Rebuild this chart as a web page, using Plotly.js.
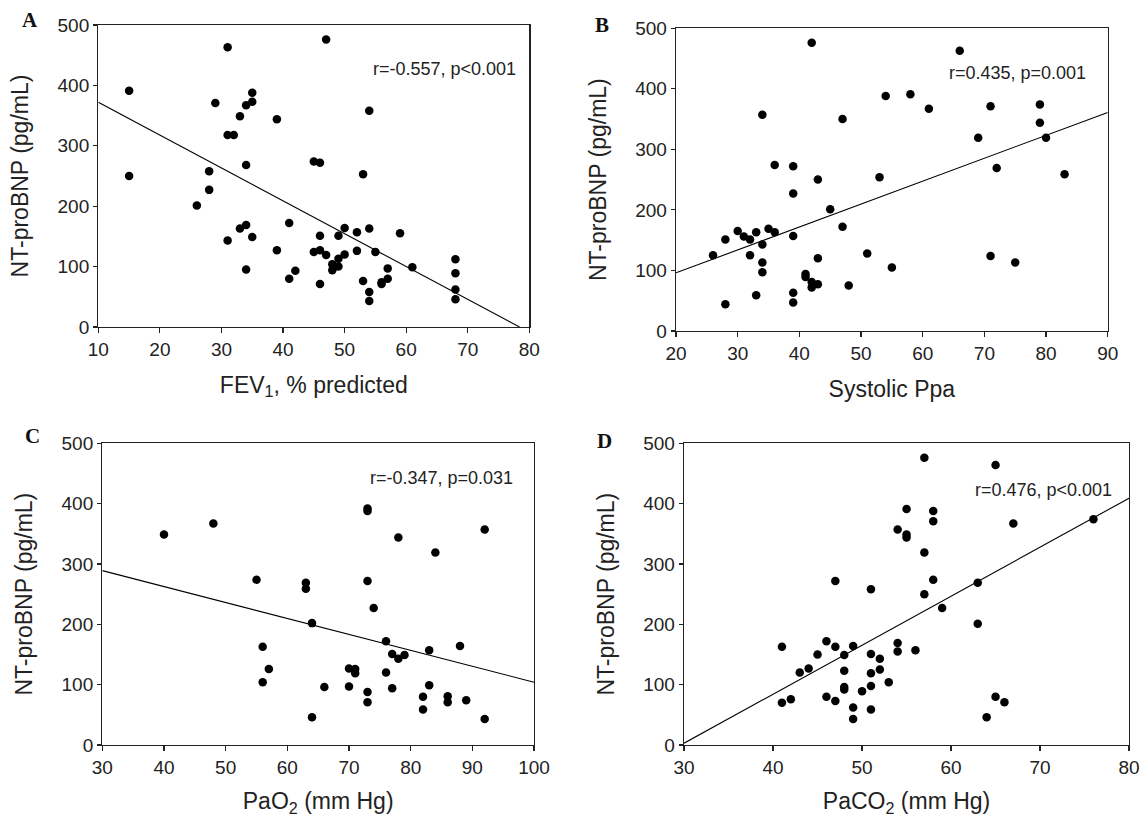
<!DOCTYPE html>
<html>
<head>
<meta charset="utf-8">
<script src="https://cdn.plot.ly/plotly-3.0.1.min.js"></script>
<style>html,body{margin:0;padding:0;background:#fff;}#chart{width:1146px;height:817px;}</style>
</head>
<body>
<div id="chart"></div>
<script>
// ---- Panel A: FEV1 % predicted vs NT-proBNP ----
const fevX = [15,15,31,29,35,35,34,33,31,32,39,34,28,28,26,41,34,33,35,31,39,34,41,42,47,54,45,46,53,46,49,50,52,54,59,45,46,47,49,50,52,55,48,48,49,57,61,46,53,56,56,57,54,54,68,68,68,68];
const fevY = [391,250,463,371,388,373,367,349,318,318,344,268,258,227,201,172,169,163,149,143,127,95,80,93,476,358,274,272,253,151,151,164,157,163,155,124,127,119,113,120,126,124,104,94,100,97,99,71,76,71,74,80,58,43,112,89,62,46];
const fitAX = [10, 78.4];
const fitAY = [372, 0];

// ---- Panel B: Systolic Ppa vs NT-proBNP ----
const ppaX = [42,34,47,36,39,43,39,45,47,30,33,35,36,31,32,28,39,34,26,32,34,34,43,41,41,42,42,43,48,39,33,39,28,66,54,58,61,71,79,79,69,80,72,83,53,51,71,75,55];
const ppaY = [476,357,350,274,272,250,227,201,172,165,163,169,163,156,151,151,157,143,125,125,113,97,120,94,89,81,72,77,75,63,59,47,44,463,388,391,367,371,374,344,319,319,269,259,254,128,124,113,105];
const fitBX = [20, 90];
const fitBY = [96, 361];

// ---- Panel C: PaO2 vs NT-proBNP ----
const pao2X = [40,48,55,56,57,56,73,73,92,78,84,63,63,73,74,64,76,88,83,77,79,78,70,71,71,76,66,70,77,83,73,73,82,82,86,86,89,64,92];
const pao2Y = [349,367,274,163,126,104,392,388,357,344,319,269,259,272,227,202,172,164,157,151,149,143,127,126,119,120,96,97,94,99,88,71,80,59,81,71,74,46,43];
const fitCX = [30, 100];
const fitCY = [289, 104];

// ---- Panel D: PaCO2 vs NT-proBNP ----
const paco2X = [47,41,46,47,49,45,48,43,44,48,48,48,41,42,46,47,49,49,57,65,55,58,58,67,76,54,55,55,57,58,51,63,57,59,63,54,54,56,51,52,52,51,53,51,50,51,65,66,64];
const paco2Y = [272,163,172,163,164,150,149,120,127,123,96,92,70,76,80,73,62,43,476,464,391,388,371,367,374,357,349,344,319,274,258,269,250,227,201,169,155,157,151,143,125,119,104,98,89,59,80,71,46];
const fitDX = [30, 80];
const fitDY = [3, 409];

const yTicks = [0,100,200,300,400,500];
const statLabels = ["r=-0.557, p<0.001", "r=0.435, p=0.001", "r=-0.347, p=0.031", "r=0.476, p<0.001"];
const panelLetters = ["A","B","C","D"];
const xTitles = ["FEV<sub>1</sub>, % predicted", "Systolic Ppa", "PaO<sub>2</sub> (mm Hg)", "PaCO<sub>2</sub> (mm Hg)"];
const yTitle = "NT-proBNP (pg/mL)";

const panels = [
  {px: fevX, py: fevY, fx: fitAX, fy: fitAY, xr: [10,80], xd: [0.0858,0.4619], yd: [0.5998,0.9694], dt: 10, st: {x: 78.2, y: 427}},
  {px: ppaX, py: ppaY, fx: fitBX, fy: fitBY, xr: [20,90], xd: [0.5899,0.9666], yd: [0.5949,0.9654], dt: 10, st: {x: 86.8, y: 426}},
  {px: pao2X, py: pao2Y, fx: fitCX, fy: fitCY, xr: [30,100], xd: [0.0893,0.4660], yd: [0.0881,0.4574], dt: 10, st: {x: 96.9, y: 443}},
  {px: paco2X, py: paco2Y, fx: fitDX, fy: fitDY, xr: [30,80], xd: [0.5969,0.9852], yd: [0.0881,0.4574], dt: 10, st: {x: 78.3, y: 423}}
];

const traces = [];
const layout = {
  width: 1146, height: 817,
  margin: {l: 0, r: 0, t: 0, b: 0},
  paper_bgcolor: "#fff", plot_bgcolor: "#fff",
  showlegend: false,
  font: {family: "Liberation Sans, Arial, sans-serif", color: "#222", size: 19},
  annotations: []
};

panels.forEach((p, i) => {
  const n = i + 1;
  const xa = n === 1 ? "x" : "x" + n;
  const ya = n === 1 ? "y" : "y" + n;
  traces.push({
    type: "scatter", mode: "markers", x: p.px, y: p.py, xaxis: xa, yaxis: ya,
    marker: {color: "#000", size: 8.5}, hoverinfo: "x+y"
  });
  traces.push({
    type: "scatter", mode: "lines", x: p.fx, y: p.fy, xaxis: xa, yaxis: ya,
    line: {color: "#000", width: 1.1}, hoverinfo: "skip"
  });
  const axBase = {
    showgrid: false, zeroline: false, showline: true, mirror: true,
    linecolor: "#222", linewidth: 1.3, ticks: "outside", ticklen: 5, tickwidth: 1.2, tickcolor: "#222",
    tickfont: {size: 19, family: "Liberation Sans, Arial, sans-serif", color: "#222"}
  };
  layout["xaxis" + (n === 1 ? "" : n)] = Object.assign({}, axBase, {
    domain: p.xd, range: p.xr, anchor: ya, dtick: p.dt, tick0: 0,
    title: {text: xTitles[i], font: {size: 23, color: "#222"}, standoff: 17}
  });
  layout["yaxis" + (n === 1 ? "" : n)] = Object.assign({}, axBase, {
    domain: p.yd, range: [0, 500], anchor: xa, tickvals: yTicks, ticklen: 4,
    title: {text: yTitle, font: {size: 23, color: "#222"}, standoff: 22}
  });
  layout.annotations.push({
    xref: xa, yref: ya, x: p.st.x, y: p.st.y, text: statLabels[i], showarrow: false,
    xanchor: "right", yanchor: "middle", font: {size: 18, color: "#222"}
  });
});

// panel letters (paper coordinates, pixel-derived)
const letterPos = [[30, 20], [602, 25], [32, 436], [604, 441]];
letterPos.forEach((pos, i) => {
  layout.annotations.push({
    xref: "paper", yref: "paper", x: pos[0] / 1146, y: 1 - pos[1] / 817,
    text: "<b>" + panelLetters[i] + "</b>", showarrow: false, xanchor: "center", yanchor: "middle",
    font: {family: "Liberation Serif, Times New Roman, serif", size: 21, color: "#111"}
  });
});

Plotly.newPlot("chart", traces, layout, {displayModeBar: false, staticPlot: true});
</script>
</body>
</html>
